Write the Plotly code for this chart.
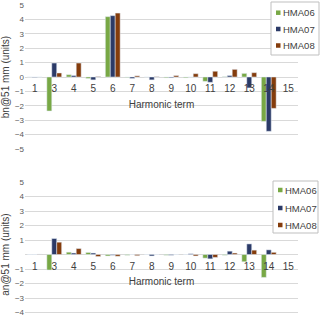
import plotly.graph_objects as go

harmonics = ["1", "3", "4", "5", "6", "7", "8", "9", "10", "11", "12", "13", "14", "15"]
series_names = ["HMA06", "HMA07", "HMA08"]

bn_hma06 = [0.0, -2.36, 0.16, -0.10, 4.19, -0.03, 0.0, -0.05, -0.05, -0.30, 0.02, 0.25, -3.08, None]
bn_hma07 = [-0.02, 0.97, 0.10, -0.20, 4.26, -0.10, -0.20, -0.05, 0.0, -0.37, 0.10, -0.76, -3.77, None]
bn_hma08 = [0.0, 0.28, 0.97, 0.03, 4.44, 0.08, 0.02, 0.10, 0.23, 0.40, 0.53, 0.30, -2.18, None]

an_hma06 = [0.0, -1.07, 0.16, 0.14, -0.10, -0.05, 0.0, -0.05, 0.0, -0.25, -0.05, -0.50, -1.58, None]
an_hma07 = [0.0, 1.10, 0.10, 0.10, -0.05, 0.0, -0.10, -0.05, 0.05, -0.30, 0.23, 0.73, 0.32, None]
an_hma08 = [0.02, 0.85, 0.41, -0.14, -0.12, -0.08, 0.0, 0.0, -0.10, -0.20, 0.10, 0.30, 0.15, None]

y_ticks = [-5, -4, -3, -2, -1, 0, 1, 2, 3, 4, 5]
y_ticks_bottom = [-5, -4, -3, -2, -1, 1, 2, 3, 4, 5]

colors = ["#78a845", "#2b3a67", "#843c0c"]
font_family = "Liberation Sans"
grey = "#595959"
dark = "#404040"

W, H = 320.0, 331.0
L, R = 25, 22
PW = W - L - R


def px(x):
    return (x - L) / PW


def py(y):
    return 1 - y / H


fig = go.Figure()
for name, vals, c in zip(series_names, [bn_hma06, bn_hma07, bn_hma08], colors):
    fig.add_trace(go.Bar(x=harmonics, y=vals, name=name, marker_color=c,
                         xaxis="x", yaxis="y", showlegend=False))
for name, vals, c in zip(series_names, [an_hma06, an_hma07, an_hma08], colors):
    fig.add_trace(go.Bar(x=harmonics, y=vals, name=name, marker_color=c,
                         xaxis="x2", yaxis="y2", showlegend=False))

top_dom = [py(149), py(5)]
bot_dom = [py(327), py(182)]

axis_font = dict(family=font_family, size=8, color=grey)

common_y = dict(range=[-5, 5], showgrid=True, gridcolor="#d9d9d9", gridwidth=1,
                zeroline=True, zerolinecolor="#d9d9d9", zerolinewidth=1,
                tickfont=axis_font, showline=False, ticks="", automargin=False)
common_x = dict(type="category", categoryorder="array", categoryarray=harmonics,
                showgrid=False, zeroline=False, showline=False, ticks="",
                tickfont=dict(family=font_family, size=10, color=dark),
                ticklabelstandoff=4,
                range=[-0.5, 13.5], domain=[0, 1], automargin=False)

title_font = dict(family=font_family, size=10, color=dark)

shapes = []
annotations = []


def add_legend(box, entries_y, sq_x, txt_x):
    x0, y0, x1, y1 = box
    shapes.append(dict(type="rect", xref="paper", yref="paper",
                       x0=px(x0), x1=px(x1), y0=py(y1), y1=py(y0),
                       fillcolor="white", line=dict(color="#bfbfbf", width=1), layer="above"))
    for name, c, yc in zip(series_names, colors, entries_y):
        shapes.append(dict(type="rect", xref="paper", yref="paper",
                           x0=px(sq_x), x1=px(sq_x + 4.5), y0=py(yc + 2.25), y1=py(yc - 2.25),
                           fillcolor=c, line=dict(width=0), layer="above"))
        annotations.append(dict(text=name, xref="paper", yref="paper",
                                x=px(txt_x), y=py(yc), xanchor="left", yanchor="middle",
                                showarrow=False, font=dict(family=font_family, size=9.5, color=dark)))


add_legend((271, 2, 319, 55), [12.7, 29, 45.5], 276, 280.5)
add_legend((273, 181, 318, 233), [190, 208, 225], 278, 283)

fig.update_layout(
    width=320, height=331,
    margin=dict(l=L, r=R, t=0, b=0, autoexpand=False),
    paper_bgcolor="white", plot_bgcolor="white",
    barmode="group", bargap=0.24, bargroupgap=0,
    font=dict(family=font_family, color=grey),
    showlegend=False,
    xaxis=dict(**common_x, anchor="free", position=(top_dom[0] + top_dom[1]) / 2,
               title=dict(text="Harmonic term", font=title_font, standoff=7)),
    yaxis=dict(**common_y, domain=top_dom, tickvals=y_ticks,
               title=dict(text="bn@51 mm (units)", font=title_font, standoff=4)),
    xaxis2=dict(**common_x, anchor="free", position=(bot_dom[0] + bot_dom[1]) / 2,
                title=dict(text="Harmonic term", font=title_font, standoff=7)),
    yaxis2=dict(**common_y, domain=bot_dom, tickvals=y_ticks_bottom,
                title=dict(text="an@51 mm (units)", font=title_font, standoff=4)),
    shapes=shapes,
    annotations=annotations,
)

fig.write_html("out.html", config={"displayModeBar": False},
               post_script="document.body.style.margin='0px';")
